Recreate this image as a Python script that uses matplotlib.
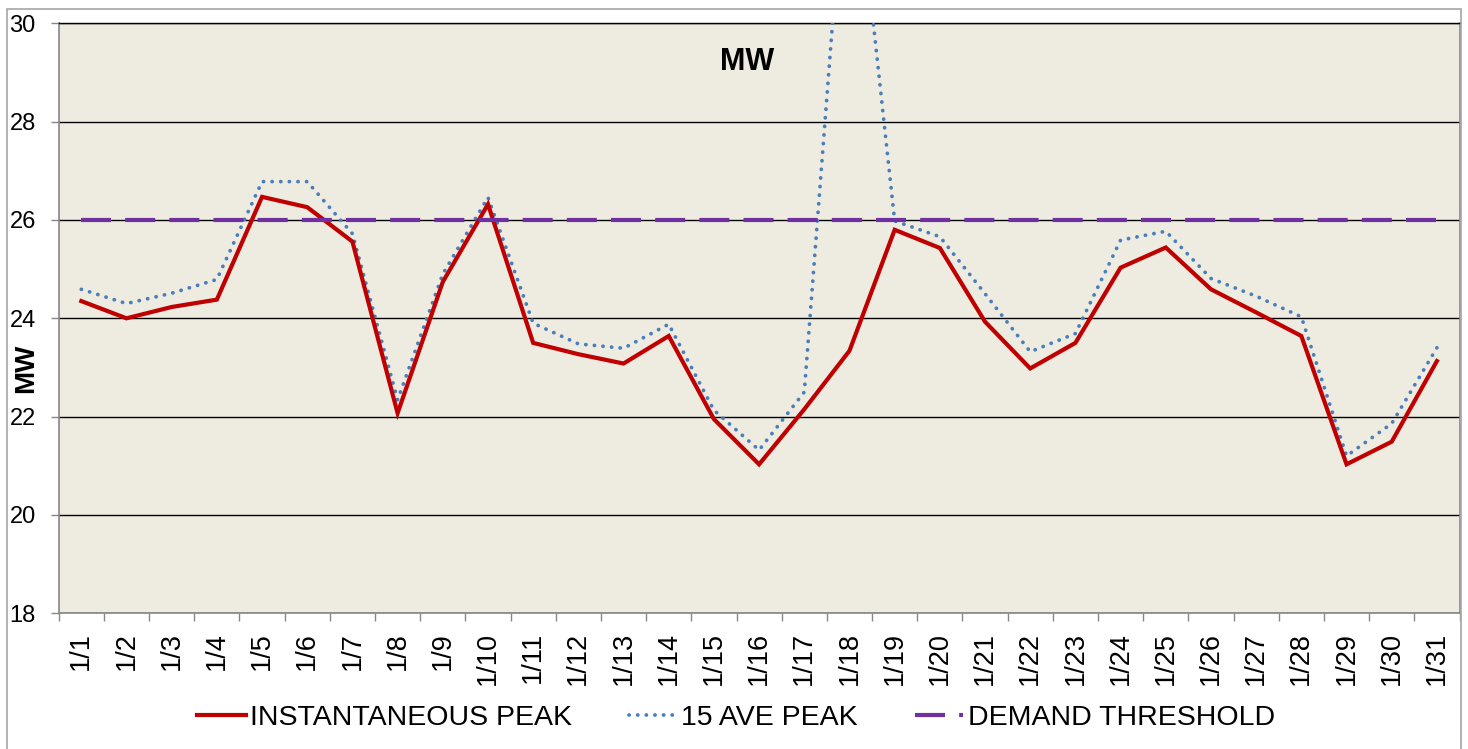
import matplotlib
matplotlib.use("Agg")
import matplotlib.pyplot as plt
from matplotlib.patches import Rectangle
from matplotlib.lines import Line2D
import numpy as np

plt.rcParams['font.family'] = ['Liberation Sans', 'DejaVu Sans']

dates = [f"1/{d}" for d in range(1, 32)]
instantaneous_peak = [24.35, 24.0, 24.23, 24.38, 26.47, 26.26, 25.56, 22.07, 24.74, 26.32,
                      23.5, 23.27, 23.08, 23.64, 21.95, 21.03, 22.15, 23.34, 25.8, 25.43,
                      23.93, 22.98, 23.5, 25.03, 25.44, 24.59, 24.12, 23.64, 21.03, 21.49, 23.13]
ave15_peak = [24.59, 24.3, 24.51, 24.79, 26.78, 26.78, 25.72, 22.34, 24.9, 26.46,
              23.9, 23.48, 23.39, 23.88, 22.13, 21.32, 22.5, 34.5, 25.98, 25.66,
              24.5, 23.32, 23.69, 25.59, 25.77, 24.81, 24.45, 24.03, 21.2, 21.86, 23.4]
demand_threshold = [26.0] * 31
y_ticks = [18, 20, 22, 24, 26, 28, 30]

W, H = 1468, 749
fig = plt.figure(figsize=(W / 100, H / 100), dpi=100)
ax = fig.add_axes([58.7 / W, 1 - 613.3 / H, (1459.5 - 58.7) / W, (613.3 - 23.3) / H])
ax.set_facecolor('#EEECE1')

x = np.arange(len(dates))
red, = ax.plot(x, instantaneous_peak, color='#C00000', lw=3.0, solid_joinstyle='miter', zorder=4)
blue, = ax.plot(x, ave15_peak, color='#4A7EBB', lw=2.7, zorder=3)
blue.set_dashes((0.05, 2.25))
blue.set_dash_capstyle('round')
purple, = ax.plot(x, demand_threshold, color='#7030A0', lw=3.0, zorder=5)
purple.set_dashes((7.2, 3.4))

ax.set_xlim(-0.5, len(dates) - 0.5)
ax.set_ylim(18, 30)
ax.set_yticks(y_ticks)
ax.set_yticklabels([str(v) for v in y_ticks], fontsize=17)
ax.yaxis.grid(True, color='black', lw=1.0)
ax.set_axisbelow(True)

ax.set_xticks(x)
ax.set_xticklabels(dates, rotation=90, fontsize=19.5)
ax.set_xticks(np.arange(-0.5, len(dates), 1.0), minor=True)
ax.tick_params(axis='x', which='major', length=0, pad=13.5)
ax.tick_params(axis='x', which='minor', length=5.5, color='#868686', width=1)
ax.tick_params(axis='y', length=5.5, color='#868686', width=1, pad=11)

for s in ['left', 'bottom', 'right']:
    ax.spines[s].set_color('#868686')
    ax.spines[s].set_linewidth(1.2)
ax.spines['top'].set_color('black')
ax.spines['top'].set_linewidth(1.0)

fig.text(746.7 / W, 1 - 62 / H, 'MW', fontsize=22, fontweight='bold', ha='center', va='center')
fig.text(26.5 / W, 1 - 368 / H, 'MW', fontsize=20, fontweight='bold', rotation=90,
         ha='center', va='center')

handles = [
    Line2D([], [], color='#C00000', lw=3.0),
    Line2D([], [], color='#4A7EBB', lw=2.7, dashes=(0.05, 2.25), dash_capstyle='round'),
    Line2D([], [], color='#7030A0', lw=3.0, dashes=(7.2, 3.4)),
]
fig.legend(handles, ['INSTANTANEOUS PEAK', '15 AVE PEAK', 'DEMAND THRESHOLD'],
           loc='center', bbox_to_anchor=(736 / W, 1 - 718 / H), ncol=3, frameon=False,
           fontsize=20.5, handlelength=1.7, handletextpad=0.15, columnspacing=2.0)

fig.patches.append(Rectangle((6.5 / W, -0.05), (1461 - 6.5) / W, 1 - 9.3 / H + 0.05,
                             transform=fig.transFigure, fill=False, edgecolor='#A6A6A6',
                             lw=1.2, zorder=0))

fig.savefig('out.png', dpi=100)
